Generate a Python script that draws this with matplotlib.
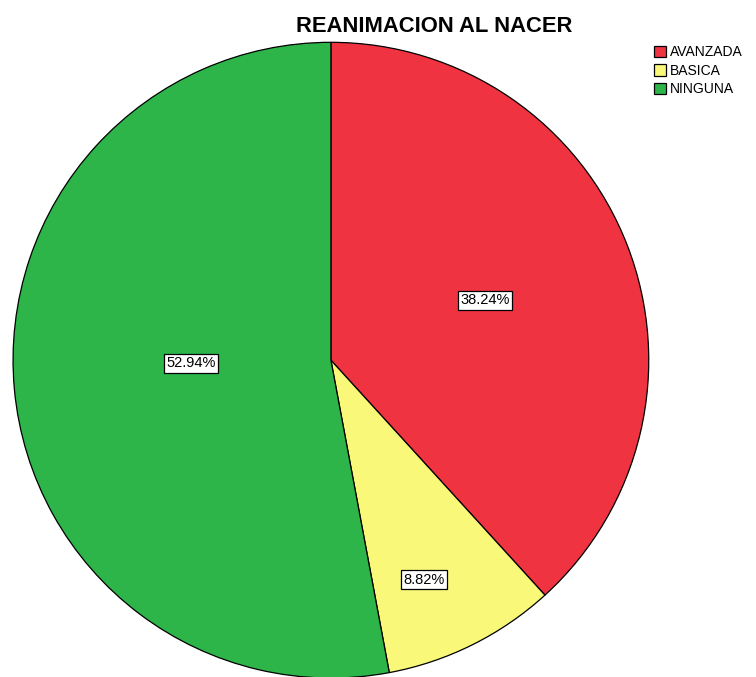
import numpy as np
import matplotlib
matplotlib.use("Agg")
import matplotlib.pyplot as plt
from matplotlib.patches import Patch

plt.rcParams['font.family'] = ['Liberation Sans', 'DejaVu Sans']

# data
categories = ["AVANZADA", "BASICA", "NINGUNA"]
percents = [38.24, 8.82, 52.94]
colours = ["#EF3340", "#F9F878", "#2DB54A"]
# label placement: fraction of radius and angle shift (deg) from the wedge middle
label_r = [0.52, 0.75, 0.44]
label_shift = [0, -3.5, -4.0]

fig = plt.figure(figsize=(7.56, 6.77), dpi=100)
ax = fig.add_axes([0.0172, -0.0015, 0.841, 0.939])

wedges, _ = ax.pie(percents, colors=colours, startangle=90, counterclock=False,
                   wedgeprops=dict(edgecolor="black", linewidth=0.9))
ax.set_xlim(-1, 1)
ax.set_ylim(-1, 1)
ax.set_aspect("equal")

for w, p, r, s in zip(wedges, percents, label_r, label_shift):
    ang = np.deg2rad((w.theta1 + w.theta2) / 2 + s)
    ax.text(r * np.cos(ang), r * np.sin(ang), "%.2f%%" % p, ha="center", va="center",
            fontsize=10.5,
            bbox=dict(boxstyle="square,pad=0.15", facecolor="white", edgecolor="black", linewidth=0.9))

fig.text(0.574, 0.961, "REANIMACION AL NACER", ha="center", va="center",
         fontsize=15.8, fontweight="bold")

handles = [Patch(facecolor=c, edgecolor="black", linewidth=0.9) for c in colours]
fig.legend(handles, categories, loc="upper left", bbox_to_anchor=(0.865, 0.933),
           frameon=False, fontsize=10, handlelength=0.85, handleheight=0.85,
           handletextpad=0.3, labelspacing=0.32, borderpad=0, borderaxespad=0)

plt.savefig("out.png", dpi=100)
